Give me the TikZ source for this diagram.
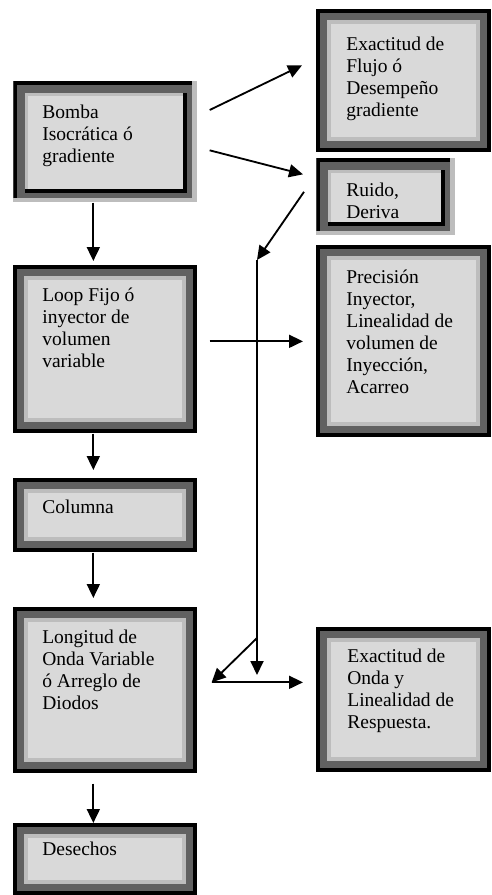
\documentclass[tikz,border=0pt]{standalone}
\usepackage{fontspec}
\setmainfont{Liberation Serif}
\usepackage{tikz}
\usetikzlibrary{arrows.meta}
\usetikzlibrary{calc}
\usetikzlibrary{positioning}

\definecolor{frameDark}{HTML}{616161}
\definecolor{frameLight}{HTML}{BDBDBD}
\definecolor{frameFill}{HTML}{D9D9D9}

\begin{document}
\begin{tikzpicture}[
  x=0.6pt, y=-0.6pt,
  flowArrow/.style={-{Triangle[length=8.4pt,width=7.8pt]}, line width=1.1pt},
  boxText/.style={inner sep=0pt, align=left, font=\fontsize{11.7}{13.2}\selectfont},
]

\tikzset{
  frameBox/.style 2 args={
    rectangle, anchor=north west, inner sep=0pt,
    minimum width=#1*0.6pt, minimum height=#2*0.6pt,
    fill=black,
    path picture={
      \fill[frameDark] ([shift={(2.4pt,-2.4pt)}]path picture bounding box.north west)
        rectangle ([shift={(-2.4pt,2.4pt)}]path picture bounding box.south east);
      \fill[frameLight] ([shift={(6.6pt,-6.6pt)}]path picture bounding box.north west)
        rectangle ([shift={(-6.6pt,6.6pt)}]path picture bounding box.south east);
      \fill[frameFill] ([shift={(9pt,-9pt)}]path picture bounding box.north west)
        rectangle ([shift={(-9pt,9pt)}]path picture bounding box.south east);
    }
  },
  frameBoxRaised/.style 2 args={
    rectangle, anchor=north west, inner sep=0pt,
    minimum width=#1*0.6pt, minimum height=#2*0.6pt,
    fill=frameLight,
    path picture={
      \fill[black] (path picture bounding box.north west)
        rectangle ([shift={(-3pt,2.4pt)}]path picture bounding box.south east);
      \fill[frameDark] ([shift={(2.4pt,-2.4pt)}]path picture bounding box.north west)
        rectangle ([shift={(-3pt,2.4pt)}]path picture bounding box.south east);
      \fill[black] ([shift={(7.2pt,-7.2pt)}]path picture bounding box.north west)
        rectangle ([shift={(-6pt,5.4pt)}]path picture bounding box.south east);
      \fill[frameLight] ([shift={(7.2pt,-7.2pt)}]path picture bounding box.north west)
        rectangle ([shift={(-8.4pt,7.8pt)}]path picture bounding box.south east);
      \fill[frameFill] ([shift={(9pt,-9pt)}]path picture bounding box.north west)
        rectangle ([shift={(-8.4pt,7.8pt)}]path picture bounding box.south east);
    }
  }
}

\useasboundingbox (0,0) rectangle (492,895);

% --- left column ---
\node[frameBoxRaised={184}{121}] (bomba) at (13,81) {};
\node[frameBox={184}{168}] (loop) at (13,265) {};
\node[frameBox={184}{74}] (columna) at (13,478) {};
\node[frameBox={184}{166}] (longitud) at (13,607) {};
\node[frameBox={184}{72}] (desechos) at (13,823) {};

% --- right column ---
\node[frameBox={175}{143}] (flujo) at (316,9) {};
\node[frameBoxRaised={139}{77}] (ruido) at (316,158) {};
\node[frameBox={175}{192}] (precision) at (316,245) {};
\node[frameBox={175}{145}] (onda) at (316,627) {};

% texts
\node[boxText, below right=14.4pt and 17.4pt of bomba.north west] (bombaText)
  {Bomba\\Isocrática ó\\gradiente};
\node[boxText, below right=13.8pt and 17.4pt of loop.north west] (loopText)
  {Loop Fijo ó\\inyector de\\volumen\\variable};
\node[boxText, below right=13.2pt and 17.4pt of columna.north west] (columnaText)
  {Columna};
\node[boxText, below right=13.8pt and 17.4pt of longitud.north west] (longitudText)
  {Longitud de\\Onda Variable\\ó Arreglo de\\Diodos};
\node[boxText, below right=11.4pt and 17.4pt of desechos.north west] (desechosText)
  {Desechos};
\node[boxText, below right=16.8pt and 18pt of flujo.north west] (flujoText)
  {Exactitud de\\Flujo ó\\Desempeño\\gradiente};
\node[boxText, below right=15pt and 18pt of ruido.north west] (ruidoText)
  {Ruido,\\Deriva};
\node[boxText, below right=15pt and 18pt of precision.north west] (precisionText)
  {Precisión\\Inyector,\\Linealidad de\\volumen de\\Inyección,\\Acarreo};
\node[boxText, below right=13.2pt and 18.6pt of onda.north west] (ondaText)
  {Exactitud de\\Onda y\\Linealidad de\\Respuesta.};

% free ends of the connectors
\coordinate (bombaOutA) at ($(bomba.north east)+(12,29)$);
\coordinate (bombaOutB) at ($(bomba.east)+(12,8.5)$);
\coordinate (flujoIn) at ($(flujo.west)+(-14,-15.5)$);
\coordinate (ruidoIn) at ($(ruido.west)+(-13,-22.5)$);
\coordinate (ruidoTap) at ($(ruido.west)+(-12,-5)$);
\coordinate (loopOut) at ($(loop.east)+(12,-8)$);
\coordinate (precisionIn) at ($(precision.west)+(-13,0)$);
\coordinate (busTop) at (257,260);
\coordinate (busSplit) at (257,638);
\coordinate (busEnd) at (257,675);
\coordinate (longitudOut) at ($(longitud.east)+(14,-8)$);
\coordinate (ondaIn) at ($(onda.west)+(-13,-17.5)$);

% main flow
\draw[flowArrow, shorten >=2.4pt] ([xshift=-7.2pt]bomba.south) -- ([xshift=-7.2pt]loop.north);
\draw[flowArrow, shorten >=4.8pt] ([xshift=-7.2pt]loop.south) -- ([xshift=-7.2pt]columna.north);
\draw[flowArrow, shorten >=5.4pt] ([xshift=-7.2pt]columna.south) -- ([xshift=-7.2pt]longitud.north);
\draw[flowArrow, shorten <=6pt] ([xshift=-7.2pt]longitud.south) -- ([xshift=-7.2pt]desechos.north);

% checks
\draw[flowArrow] (bombaOutA) -- (flujoIn);
\draw[flowArrow] (bombaOutB) -- (ruidoIn);
\draw[flowArrow] (loopOut) -- (precisionIn);
\draw[flowArrow] (ruidoTap) -- (busTop);
\draw[flowArrow] (busTop) -- (busEnd);
\draw[flowArrow] (busSplit) -- (longitudOut);
\draw[flowArrow] (longitudOut) -- (ondaIn);

\end{tikzpicture}
\end{document}
